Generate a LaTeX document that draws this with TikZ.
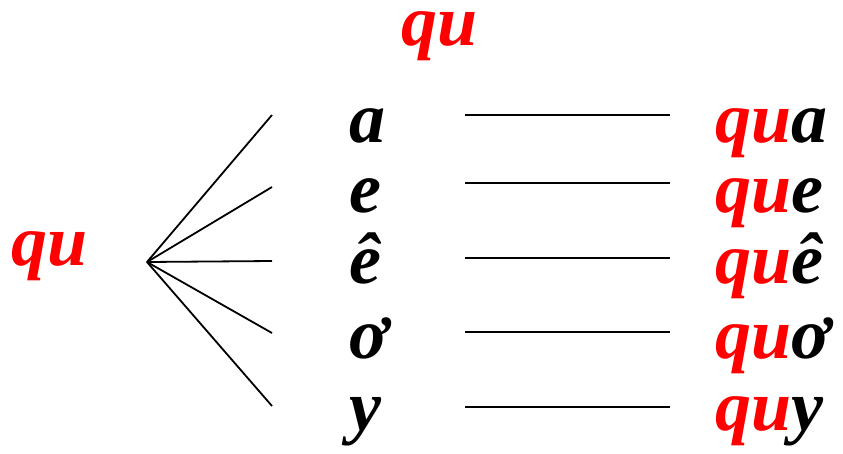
\documentclass[tikz,border=0pt]{standalone}
\usepackage{fontspec}
\setmainfont{Liberation Serif}
\begin{document}
\begin{tikzpicture}[x=1pt,y=-1pt,
  lbl/.style={anchor=base west,inner sep=0pt,font=\fontsize{72}{72}\selectfont\bfseries\itshape},
  red lbl/.style={lbl,text=red},
  conn/.style={line width=1.8pt,black}]
\useasboundingbox (0,0) rectangle (843,453);
\node[red lbl,text height=34pt] (top) at (401,45) {qu};
\node[red lbl] (left) at (11,265) {qu};
\coordinate (o) at (147,262);
\foreach \i/\l/\b/\fy/\hy in {1/a/142/115/115, 2/e/212/187/183, 3/ê/283/261/258, 4/ơ/358/333/332, 5/y/430/406/407}{
  \node[lbl] (m\i) at (349,\b) {\l};
  \node[lbl] (r\i) at (715,\b) {\textcolor{red}{qu}\l};
  \coordinate (f\i) at (272,\fy);
  \coordinate (hs\i) at (465,\hy);
  \coordinate (he\i) at (670,\hy);
  \draw[conn] (o) -- (f\i);
  \draw[conn] (hs\i) -- (he\i);
}
\end{tikzpicture}
\end{document}
